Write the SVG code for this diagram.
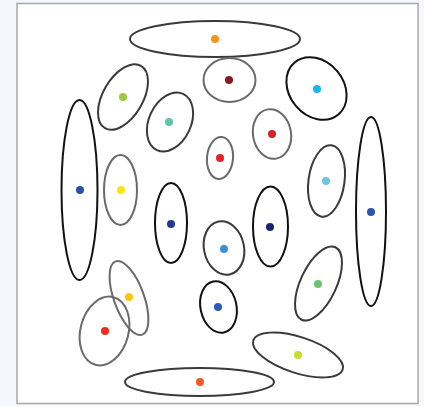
<svg xmlns="http://www.w3.org/2000/svg" width="424" height="406" viewBox="0 0 424 406">
<style>
.e{fill:none;stroke-width:2}
.k{stroke:#111}
.d{stroke:#3a3a3a}
.g{stroke:#6a6a6a}
</style>
<rect x="0" y="0" width="424" height="406" fill="#f4f7fd"/>
<rect x="17" y="3.5" width="401" height="400" fill="#ffffff" stroke="#a8a8a8" stroke-width="1.5"/>
<g id="nodes">
<g id="n1"><ellipse class="e d" cx="215" cy="39" rx="85" ry="18"/><circle cx="215" cy="39" r="4" fill="#f7941d"/></g>
<g id="n2"><ellipse class="e d" cx="123" cy="97" rx="20" ry="36" transform="rotate(30 123 97)"/><circle cx="123" cy="97" r="4" fill="#9dc93f"/></g>
<g id="n3"><ellipse class="e d" cx="170" cy="122" rx="21" ry="31" transform="rotate(25 170 122)"/><circle cx="169" cy="122" r="4" fill="#5ec5a9"/></g>
<g id="n4"><ellipse class="e g" cx="229.5" cy="80" rx="26" ry="22"/><circle cx="229" cy="80" r="4" fill="#8e1a1a"/></g>
<g id="n5"><ellipse class="e k" cx="316.5" cy="88.5" rx="34" ry="27" transform="rotate(50 316.5 88.5)"/><circle cx="317" cy="89" r="4" fill="#1bb5f0"/></g>
<g id="n6"><ellipse class="e g" cx="272" cy="134" rx="19" ry="25" transform="rotate(-10 272 134)"/><circle cx="272" cy="134" r="4" fill="#d3222a"/></g>
<g id="n7"><ellipse class="e g" cx="220" cy="158" rx="13" ry="21" transform="rotate(5 220 158)"/><circle cx="220" cy="158" r="4" fill="#e8202a"/></g>
<g id="n8"><ellipse class="e d" cx="326.5" cy="181" rx="18" ry="36" transform="rotate(8 326.5 181)"/><circle cx="326" cy="181" r="4" fill="#6ac7db"/></g>
<g id="n9"><ellipse class="e k" cx="371" cy="211.5" rx="15" ry="94.5" stroke-width="2.5"/><circle cx="371" cy="212" r="4" fill="#2a53a9"/></g>
<g id="n10"><ellipse class="e k" cx="79.5" cy="190" rx="18" ry="90" stroke-width="2.5"/><circle cx="80" cy="190" r="4" fill="#2a4fa8"/></g>
<g id="n11"><ellipse class="e g" cx="120.5" cy="190" rx="16.5" ry="35"/><circle cx="121" cy="190" r="4" fill="#f6e413"/></g>
<g id="n12"><ellipse class="e k" cx="171" cy="223" rx="16" ry="40" stroke-width="2.5"/><circle cx="171" cy="224" r="4" fill="#1f3c95"/></g>
<g id="n13"><ellipse class="e k" cx="270.5" cy="226.5" rx="17.5" ry="40" stroke-width="2.5"/><circle cx="270" cy="227" r="4" fill="#1b2472"/></g>
<g id="n14"><ellipse class="e d" cx="224" cy="248" rx="20" ry="27" transform="rotate(-12 224 248)"/><circle cx="224" cy="249" r="4" fill="#3990d8"/></g>
<g id="n15"><ellipse class="e k" cx="218.5" cy="307" rx="18" ry="26" transform="rotate(-12 218.5 307)"/><circle cx="218" cy="307" r="4" fill="#2a5cb8"/></g>
<g id="n16"><ellipse class="e d" cx="318.5" cy="283.5" rx="18" ry="40" transform="rotate(25 318.5 283.5)"/><circle cx="318" cy="284" r="4" fill="#6cc46f"/></g>
<g id="n17"><ellipse class="e d" cx="298" cy="355" rx="47" ry="18" transform="rotate(18 298 355)"/><circle cx="298" cy="355" r="4" fill="#cadb2a"/></g>
<g id="n18"><ellipse class="e d" cx="199.5" cy="382" rx="74.5" ry="14"/><circle cx="200" cy="382" r="4" fill="#f15a24"/></g>
<g id="n19"><ellipse class="e g" cx="129" cy="298" rx="15" ry="39" transform="rotate(-20 129 298)"/><circle cx="129" cy="297" r="4" fill="#fcc30f"/></g>
<g id="n20"><ellipse class="e g" cx="104.5" cy="331" rx="24" ry="35" transform="rotate(15 104.5 331)"/><circle cx="105" cy="331" r="4" fill="#ee2e24"/></g>
</g>
<g id="connectors"></g>
</svg>
